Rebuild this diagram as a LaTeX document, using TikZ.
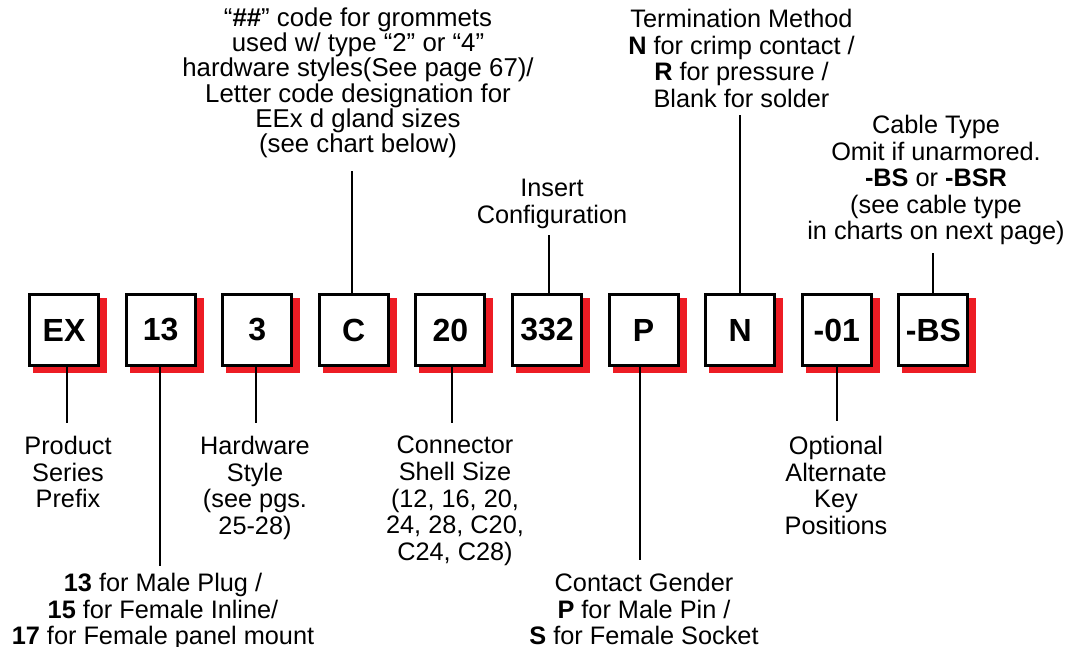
\documentclass[tikz,border=0pt]{standalone}
\usepackage{fontspec}
\setmainfont{Liberation Sans}
\usetikzlibrary{calc,backgrounds}
\definecolor{shadowred}{RGB}{237,28,36}
\begin{document}
\begin{tikzpicture}[x=1pt,y=-1pt,
  codebox/.style={draw,line width=3pt,minimum width=69pt,minimum height=71pt,inner sep=0pt,fill=white,font=\fontsize{32}{32}\selectfont\bfseries},
  lbl/.style={align=center,inner sep=0pt,anchor=north,font=\fontsize{25.3}{26.6}\selectfont},
  lbltight/.style={align=center,inner sep=0pt,anchor=north,font=\fontsize{25.8}{23.2}\selectfont},
  conn/.style={line width=2.6pt},
  boxshadow/.style={fill=shadowred}]
\useasboundingbox (0,0) rectangle (1072,647);

% code boxes
\node[codebox] (bEX)  at (64,330)    {EX};
\node[codebox] (b13)  at (160.6,330) {13};
\node[codebox] (b3)   at (257.2,330) {3};
\node[codebox] (bC)   at (353.8,330) {C};
\node[codebox] (b20)  at (450.4,330) {20};
\node[codebox] (b332) at (547,330)   {332};
\node[codebox] (bP)   at (643.6,330) {P};
\node[codebox] (bN)   at (740.2,330) {N};
\node[codebox] (b01)  at (836.8,330) {-01};
\node[codebox] (bBS)  at (933.4,330) {-BS};

\begin{scope}[on background layer]
\foreach \b in {bEX,b13,b3,bC,b20,b332,bP,bN,b01,bBS}{
  \fill[boxshadow] ($(\b.south west)+(5,6)$) rectangle ($(\b.north east)+(7,5)$);
}
\end{scope}

% labels above
\node[lbltight] (tGrom) at (358,8) {``\textbf{\#\#}'' code for grommets\\used w/ type ``2'' or ``4''\\hardware styles(See page 67)/\\Letter code designation for\\EEx d gland sizes\\(see chart below)};
\node[lbl] (tTerm) at (741.5,9) {Termination Method\\\textbf{N} for crimp contact /\\\textbf{R} for pressure /\\Blank for solder};
\node[lbl] (tIns) at (552,179) {Insert\\Configuration};
\node[lbl] (tCab) at (936,115) {Cable Type\\Omit if unarmored.\\\textbf{-BS} or \textbf{-BSR}\\(see cable type\\in charts on next page)};

% labels below
\node[lbl] (tPre) at (68,436) {Product\\Series\\Prefix};
\node[lbl] (tHw) at (255,436) {Hardware\\Style\\(see pgs.\\25-28)};
\node[lbl] (tShell) at (455,436) {Connector\\Shell Size\\(12, 16, 20,\\24, 28, C20,\\C24, C28)};
\node[lbl] (tOpt) at (836,436) {Optional\\Alternate\\Key\\Positions};
\node[lbl] (tMale) at (163,573) {\textbf{13} for Male Plug /\\\textbf{15} for Female Inline/\\\textbf{17} for Female panel mount};
\node[lbl] (tGen) at (644,573) {Contact Gender\\\textbf{P} for Male Pin /\\\textbf{S} for Female Socket};

% connector end points
\coordinate (cC) at (352,171);
\coordinate (cIns) at (549,235);
\coordinate (cN) at (740,115);
\coordinate (cBS) at (933,253);
\coordinate (cEX) at (67,423);
\coordinate (c13) at (160,566);
\coordinate (c3) at (256,423);
\coordinate (c20) at (452,423);
\coordinate (cP) at (640,560);
\coordinate (c01) at (837,421);

\draw[conn] (cC |- bC.north) -- (cC);
\draw[conn] (cIns |- b332.north) -- (cIns);
\draw[conn] (cN |- bN.north) -- (cN);
\draw[conn] (cBS |- bBS.north) -- (cBS);
\draw[conn] (cEX |- bEX.south) -- (cEX);
\draw[conn] (c13 |- b13.south) -- (c13);
\draw[conn] (c3 |- b3.south) -- (c3);
\draw[conn] (c20 |- b20.south) -- (c20);
\draw[conn] (cP |- bP.south) -- (cP);
\draw[conn] (c01 |- b01.south) -- (c01);
\end{tikzpicture}
\end{document}
